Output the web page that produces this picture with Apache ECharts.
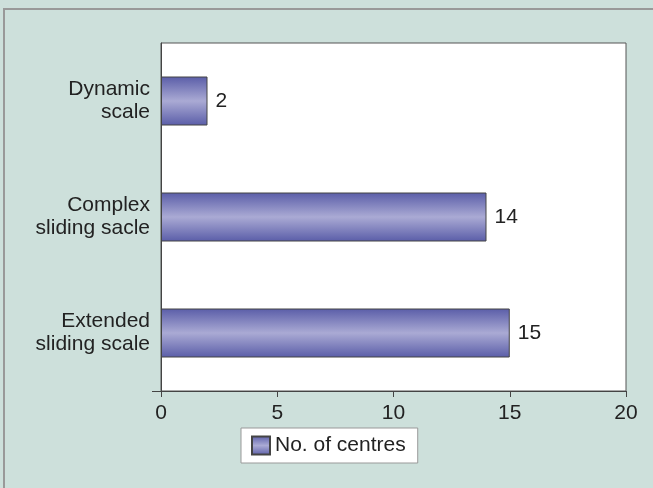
<!DOCTYPE html>
<html>
<head>
<meta charset="utf-8">
<script src="https://cdn.jsdelivr.net/npm/echarts@6/dist/echarts.min.js"></script>
<style>
    html, body { margin: 0; padding: 0; background: #fff; }
    #chart { width: 653px; height: 488px; }
</style>
</head>
<body>
<div id="chart"></div>
<script>
    // categories bottom to top
    var categories = ['Extended\nsliding scale', 'Complex\nsliding sacle', 'Dynamic\nscale'];
    var centres = [15, 14, 2];
    var xTicks = [0, 5, 10, 15, 20];
    var seriesName = 'No. of centres';

    var chart = echarts.init(document.getElementById('chart'));

    var barFill = new echarts.graphic.LinearGradient(0, 0, 0, 1, [
        { offset: 0, color: '#5a5da8' },
        { offset: 0.5, color: '#aaaad4' },
        { offset: 1, color: '#5a5da8' }
    ]);

    var option = {
        backgroundColor: '#cde0db',
        textStyle: {
            fontFamily: 'Liberation Sans, Arial, sans-serif',
            color: '#222'
        },
        graphic: [{
            type: 'polyline',
            shape: { points: [[4, 488], [4, 9], [653, 9]] },
            style: { stroke: '#999', lineWidth: 2, fill: null },
            silent: true
        }, {
            type: 'line',
            shape: { x1: 152, y1: 391.5, x2: 161, y2: 391.5 },
            style: { stroke: '#444', lineWidth: 1 },
            silent: true
        }],
        grid: {
            left: 161,
            right: 27,
            top: 43,
            bottom: 97,
            show: true,
            backgroundColor: '#fff',
            borderColor: '#555',
            borderWidth: 1
        },
        legend: {
            left: 241,
            top: 428,
            data: [{ name: seriesName, icon: 'rect' }],
            itemWidth: 18,
            itemHeight: 18,
            itemGap: 5,
            padding: [7, 12, 7, 10],
            backgroundColor: '#fff',
            borderColor: '#999',
            borderWidth: 1,
            borderRadius: 0,
            textStyle: {
                fontSize: 21,
                color: '#222',
                padding: [0, 0, 0, 0]
            }
        },
        xAxis: {
            type: 'value',
            min: 0,
            max: 20,
            interval: 5,
            splitLine: { show: false },
            axisLine: { show: true, lineStyle: { color: '#444', width: 1 } },
            axisTick: { show: true, length: 6, lineStyle: { color: '#444' } },
            axisLabel: {
                fontSize: 21,
                color: '#222',
                margin: 12,
                formatter: function (v) { return xTicks.indexOf(v) >= 0 ? String(v) : ''; }
            }
        },
        yAxis: {
            type: 'category',
            data: categories,
            axisLine: { show: true, lineStyle: { color: '#444', width: 1 } },
            axisTick: { show: false },
            axisLabel: {
                fontSize: 21,
                color: '#222',
                align: 'right',
                lineHeight: 23,
                padding: [8, 0, 0, 0],
                margin: 11
            }
        },
        series: [{
            name: seriesName,
            type: 'bar',
            data: centres,
            barWidth: 49,
            itemStyle: {
                color: barFill,
                borderColor: '#444',
                borderWidth: 1
            },
            label: {
                show: true,
                position: 'right',
                distance: 8,
                fontSize: 21,
                color: '#222'
            }
        }]
    };

    chart.setOption(option);
</script>
</body>
</html>
